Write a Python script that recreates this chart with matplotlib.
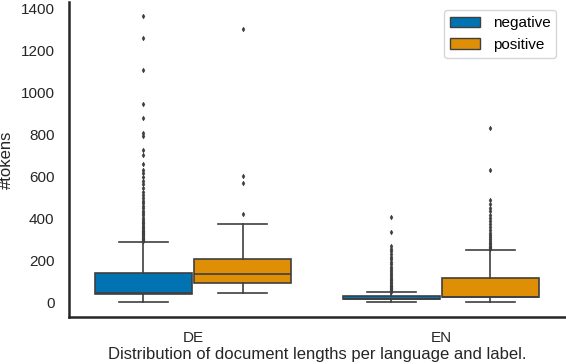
import matplotlib
matplotlib.use("Agg")
import matplotlib.pyplot as plt
from matplotlib.patches import Patch

plt.rcParams['font.family'] = ['Liberation Sans', 'DejaVu Sans']

languages = ["DE", "EN"]
labels = ["negative", "positive"]
colors = ["#0173b2", "#de8f05"]

# box statistics: (whislo, q1, med, q3, whishi)
de_neg = (2, 43, 44, 141, 287)
de_pos = (45, 92, 135, 206, 372)
en_neg = (2, 16, 16, 30, 50)
en_pos = (3, 25, 25, 116, 250)

de_neg_fliers = [292, 295, 298, 302, 306, 310, 315, 320, 325, 330, 336, 342, 348,
                 355, 362, 370, 378, 386, 395, 405, 415, 425, 436, 448, 460, 472,
                 485, 498, 512, 528, 545, 562, 580, 598, 615, 633, 657, 700, 728,
                 790, 808, 877, 943, 1108, 1258, 1362]
de_pos_fliers = [420, 570, 601, 1299]
en_neg_fliers = [52, 55, 58, 62, 66, 70, 75, 80, 86, 92, 99, 106, 114, 122, 131,
                 140, 150, 160, 171, 182, 194, 206, 218, 231, 244, 257, 270, 335, 407]
en_pos_fliers = [253, 258, 264, 270, 277, 285, 293, 302, 312, 322, 333, 345, 358,
                 372, 387, 402, 418, 435, 452, 470, 490, 630, 832]


def make_stats(s, fl):
    return dict(whislo=s[0], q1=s[1], med=s[2], q3=s[3], whishi=s[4], fliers=fl)


stats = [make_stats(de_neg, de_neg_fliers), make_stats(de_pos, de_pos_fliers),
         make_stats(en_neg, en_neg_fliers), make_stats(en_pos, en_pos_fliers)]
box_colors = [colors[0], colors[1], colors[0], colors[1]]
positions = [-0.2, 0.2, 0.8, 1.2]

edge = "#3f3f3f"
fig = plt.figure(figsize=(5.66, 3.64), dpi=100)
ax = fig.add_axes([0.122, 0.129, 0.876, 0.866])

bp = ax.bxp(stats, positions=positions, widths=0.392, patch_artist=True,
            boxprops=dict(edgecolor=edge, linewidth=1.2),
            whiskerprops=dict(color=edge, linewidth=1.2),
            capprops=dict(color=edge, linewidth=1.2),
            medianprops=dict(color=edge, linewidth=1.2),
            flierprops=dict(marker="d", markersize=2.4, markerfacecolor=edge,
                            markeredgecolor=edge, markeredgewidth=0.4,
                            linestyle="none"))
for patch, c in zip(bp["boxes"], box_colors):
    patch.set_facecolor(c)

ax.set_xlim(-0.5, 1.5)
ax.set_ylim(-68, 1430)
ax.set_xticks([0, 1])
ax.set_xticklabels(languages)
ax.set_yticks(range(0, 1401, 200))
ax.tick_params(length=0, labelsize=11, colors="#262626", pad=10.5)
ax.tick_params(axis="x", pad=10)
for s in ["top", "right"]:
    ax.spines[s].set_visible(False)
for s in ["left", "bottom"]:
    ax.spines[s].set_linewidth(1.8)
    ax.spines[s].set_color("#262626")

ax.set_ylabel("#tokens", fontsize=12, color="#262626")
ax.yaxis.set_label_coords(-0.111, 0.5)
ax.set_xlabel("Distribution of document lengths per language and label.",
              fontsize=12, color="#262626")
ax.xaxis.set_label_coords(0.5, -0.096)

handles = [Patch(facecolor=c, edgecolor=edge, label=l) for c, l in zip(colors, labels)]
ax.legend(handles=handles, loc="upper right", fontsize=11, frameon=True,
          borderaxespad=0.55, handlelength=2.0)

fig.savefig("out.png", dpi=100)
